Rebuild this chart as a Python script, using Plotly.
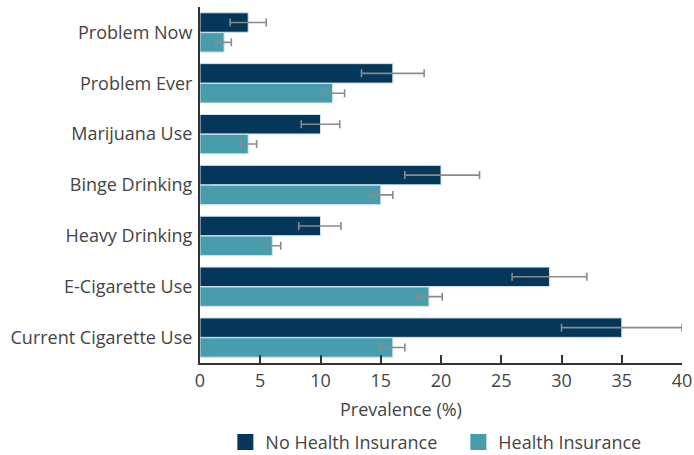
import plotly.graph_objects as go

categories = ["Problem Now", "Problem Ever", "Marijuana Use", "Binge Drinking",
              "Heavy Drinking", "E-Cigarette Use", "Current Cigarette Use"]

no_ins = [4, 16, 10, 20, 10, 29, 35]
no_ins_lo = [2.5, 13.4, 8.4, 17.0, 8.2, 25.9, 30.0]
no_ins_hi = [5.5, 18.6, 11.6, 23.2, 11.7, 32.1, 40.0]

ins = [2, 11, 4, 15, 6, 19, 16]
ins_lo = [1.3, 10.1, 3.4, 14.1, 5.3, 18.0, 15.0]
ins_hi = [2.6, 12.0, 4.7, 16.0, 6.7, 20.1, 17.0]

x_ticks = [0, 5, 10, 15, 20, 25, 30, 35, 40]

DARK = "#04375a"
TEAL = "#489dac"
ERR = "#8a8a8a"
TEXT = "#444444"


def err(vals, lo, hi):
    return dict(type="data", symmetric=False,
                array=[h - v for v, h in zip(vals, hi)],
                arrayminus=[v - l for v, l in zip(vals, lo)],
                color=ERR, thickness=1.6, width=4)


fig = go.Figure()
for name, vals, lo, hi, col in [("No Health Insurance", no_ins, no_ins_lo, no_ins_hi, DARK),
                                ("Health Insurance", ins, ins_lo, ins_hi, TEAL)]:
    fig.add_trace(go.Bar(
        y=categories, x=vals, orientation="h", name=name, showlegend=False,
        marker=dict(color=col, line=dict(color="#cfe2ea", width=1)),
        error_x=err(vals, lo, hi)))

# square legend keys
for name, col in [("No Health Insurance", DARK), ("Health Insurance", TEAL)]:
    fig.add_trace(go.Scatter(
        x=[None], y=[None], mode="markers", name=name,
        marker=dict(symbol="square", size=18, color=col)))

fig.update_layout(
    width=694, height=455,
    margin=dict(l=199.5, r=11.5, t=7, b=92, autoexpand=False),
    paper_bgcolor="white", plot_bgcolor="white",
    font=dict(family="Open Sans", size=18, color=TEXT),
    barmode="group", bargap=0.22, bargroupgap=0.02,
    showlegend=True,
    legend=dict(orientation="h", x=0.536, xanchor="center",
                yref="container", y=0.028, yanchor="middle",
                font=dict(size=18, color=TEXT), itemsizing="trace",
                entrywidth=188, entrywidthmode="pixels",
                traceorder="normal"),
    annotations=[dict(text="Prevalence (%)", xref="paper", yref="paper",
                      x=0.417, y=-0.129, xanchor="center", yanchor="middle",
                      showarrow=False, font=dict(size=18, color=TEXT))],
)

fig.update_xaxes(
    range=[0, 40], tickvals=x_ticks, ticks="inside", ticklen=8, tickwidth=2,
    tickcolor="#333333", showline=True, linecolor="#333333", linewidth=2,
    showgrid=False, zeroline=False, fixedrange=True,
    tickfont=dict(size=18, color=TEXT))

fig.update_yaxes(
    categoryorder="array", categoryarray=categories, autorange="reversed",
    ticks="inside", ticklen=11, tickwidth=2, tickcolor="#333333",
    showline=True, linecolor="#333333", linewidth=2, layer="below traces",
    showgrid=False, zeroline=False, ticklabelstandoff=2,
    tickfont=dict(size=18, color=TEXT))

fig.write_html("out.html")
